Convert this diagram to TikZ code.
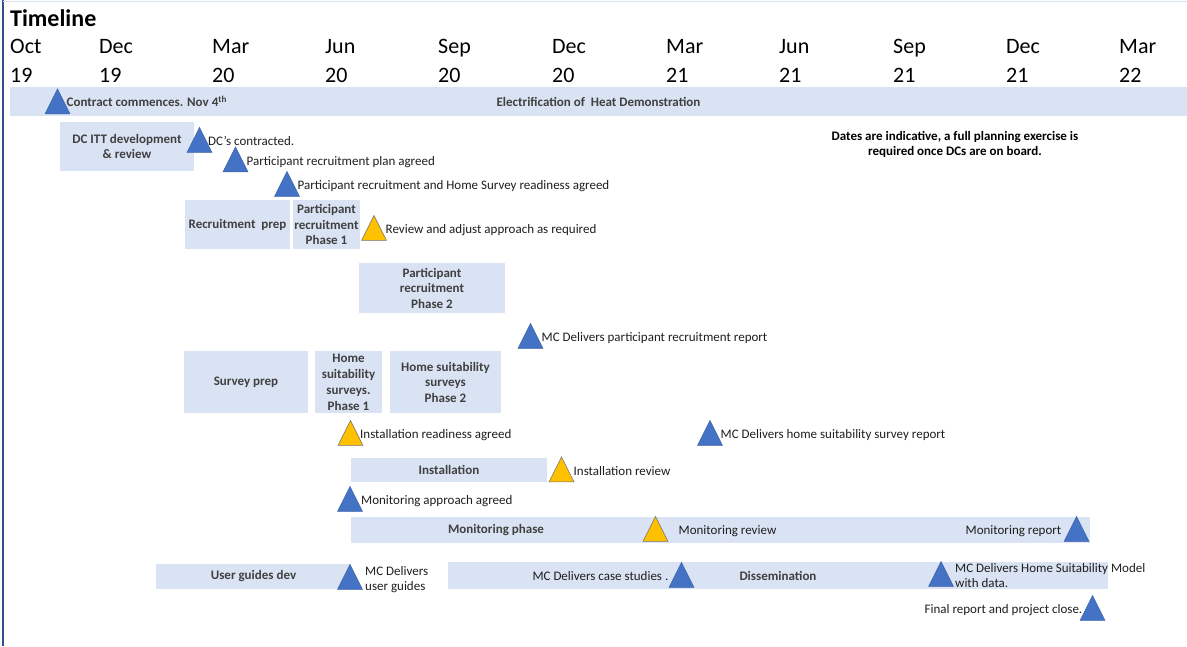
\documentclass[tikz,border=0pt]{standalone}
\usepackage{fontspec}
\setmainfont{Carlito}
\usetikzlibrary{positioning,shapes.geometric}
\definecolor{barblue}{RGB}{218,227,243}
\definecolor{msblue}{RGB}{68,114,196}
\definecolor{msyellow}{RGB}{255,192,0}
\definecolor{frameblue}{RGB}{47,82,143}
\definecolor{bartext}{RGB}{64,64,64}
\definecolor{lbltext}{RGB}{30,30,30}

\begin{document}
\begin{tikzpicture}[x=1pt,y=-1pt,
  bar/.style={fill=barblue, draw=none, inner sep=0pt, align=center,
    text=bartext, font=\fontsize{13}{15.5}\selectfont\bfseries},
  mstone/.style={isosceles triangle, isosceles triangle stretches,
    shape border rotate=90, minimum width=25pt, minimum height=25pt,
    inner sep=0pt, yshift=-4.2pt},
  bluem/.style={mstone, fill=msblue, draw=msblue!85!black, line width=0.4pt},
  yellm/.style={mstone, fill=msyellow, draw=black!55, line width=0.6pt},
  lbl/.style={font=\fontsize{13}{15}\selectfont, text=lbltext, inner sep=1pt,
    align=left, text height=9pt, text depth=3pt, yshift=2pt},
  twoline/.style={text height=25pt, text depth=3pt},
  bold/.style={font=\fontsize{13}{15}\selectfont\bfseries, text=bartext},
  month/.style={font=\fontsize{22}{26}\selectfont, anchor=west, inner sep=0pt,
    text height=15pt, text depth=0pt}]
  \useasboundingbox (0,0) rectangle (1187,646);

  % frame
  \draw[frameblue, line width=1.6pt] (3,0) -- (3,646);
  \draw[barblue, line width=1pt] (3,1) -- (1187,1);

  % title and time axis
  \node[font=\fontsize{24}{28}\selectfont\bfseries, anchor=west, inner sep=0pt] (title) at (10,18) {Timeline};
  \foreach \mx/\mm/\yy [count=\i] in {10/Oct/19, 99/Dec/19, 212/Mar/20, 325/Jun/20,
      438/Sep/20, 552/Dec/20, 666/Mar/21, 779/Jun/21, 893/Sep/21, 1006/Dec/21, 1119/Mar/22} {
    \node[month] (m\i) at (\mx,46) {\mm};
    \node[month] (y\i) at (\mx,74.5) {\yy};
  }

  % bars
  \node[bar, minimum width=1177pt, minimum height=29pt] (ehd) at (598.5,101.5) {Electrification of\ \ Heat Demonstration};
  \node[bar, minimum width=134pt, minimum height=49pt] (itt) at (127,146.5) {DC ITT development\\\& review};
  \node[bar, minimum width=105pt, minimum height=49pt] (rprep) at (237.5,224.5) {Recruitment\ \ prep};
  \node[bar, minimum width=67pt, minimum height=49pt] (rph1) at (326.5,224.5) {Participant\\recruitment\\Phase 1};
  \node[bar, minimum width=146pt, minimum height=50pt] (rph2) at (432,288) {Participant\\recruitment\\Phase 2};
  \node[bar, minimum width=124pt, minimum height=62pt] (sprep) at (246,382) {Survey prep};
  \node[bar, minimum width=67pt, minimum height=62pt, font=\fontsize{13}{16}\selectfont\bfseries] (hs1) at (348.5,382) {Home\\suitability\\surveys.\\Phase 1};
  \node[bar, minimum width=111pt, minimum height=62pt] (hs2) at (445.5,382) {Home suitability\\surveys\\Phase 2};
  \node[bar, minimum width=196pt, minimum height=24pt] (inst) at (449,470) {Installation};
  \node[bar, minimum width=739pt, minimum height=26pt] (mon) at (720.5,530) {};
  \node[bold] (monph) at (496,530) {Monitoring phase};
  \node[bar, minimum width=195pt, minimum height=25pt] (ugd) at (253.5,576.5) {User guides dev};
  \node[bar, minimum width=660pt, minimum height=27pt] (dis) at (778,575.5) {Dissemination};

  % note
  \node[bold, align=center, text=black] (note) at (955,144.5)
    {Dates are indicative, a full planning exercise is\\required once DCs are on board.};

  % milestones
  \node[bluem] (t0) at (57.5,102) {};
  \node[lbl, bold, text height=8.5pt, right=8pt of t0.center] (l0) {Contract commences. Nov 4\textsuperscript{th}};
  \node[bluem] (t1) at (199.5,140.5) {};
  \node[lbl, right=7.5pt of t1.center] (l1) {DC’s contracted.};
  \node[bluem] (t2) at (235.5,160) {};
  \node[lbl, right=10pt of t2.center] (l2) {Participant recruitment plan agreed};
  \node[bluem] (t3) at (287,184.5) {};
  \node[lbl, right=9.5pt of t3.center] (l3) {Participant recruitment and Home Survey readiness agreed};
  \node[yellm] (t4) at (374,228.5) {};
  \node[lbl, right=10.5pt of t4.center] (l4) {Review and adjust approach as required};
  \node[bluem] (t5) at (530.5,336.5) {};
  \node[lbl, right=10pt of t5.center] (l5) {MC Delivers participant recruitment report};
  \node[yellm] (t6) at (350.5,433.5) {};
  \node[lbl, right=8.5pt of t6.center] (l6) {Installation readiness agreed};
  \node[bluem] (t7) at (710,433.5) {};
  \node[lbl, right=9.5pt of t7.center] (l7) {MC Delivers home suitability survey report};
  \node[yellm] (t8) at (561.5,470) {};
  \node[lbl, right=11pt of t8.center] (l8) {Installation review};
  \node[bluem] (t9) at (350,499.5) {};
  \node[lbl, right=10pt of t9.center] (l9) {Monitoring approach agreed};
  \node[yellm] (t10) at (655.5,529.5) {};
  \node[lbl, right=22pt of t10.center] (l10) {Monitoring review};
  \node[bluem] (t11) at (1076.5,529.5) {};
  \node[lbl, left=14pt of t11.center] (l11) {Monitoring report};
  \node[bluem] (t12) at (350,577.5) {};
  \node[lbl, twoline, right=14pt of t12.center] (l12) {MC Delivers\\user guides};
  \node[bluem] (t13) at (681.5,575.5) {};
  \node[lbl, left=12pt of t13.center] (l13) {MC Delivers case studies .};
  \node[bluem] (t14) at (941,574.5) {};
  \node[lbl, twoline, right=13pt of t14.center] (l14) {MC Delivers Home Suitability Model\\with data.};
  \node[bluem] (t15) at (1092.5,608.5) {};
  \node[lbl, left=9pt of t15.center] (l15) {Final report and project close.};
\end{tikzpicture}
\end{document}
